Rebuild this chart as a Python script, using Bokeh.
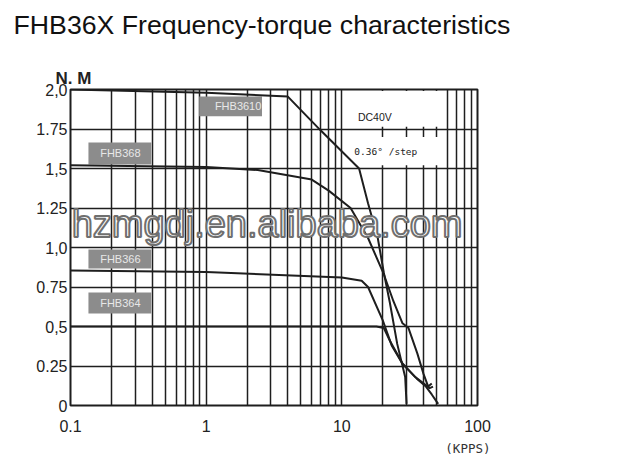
from bokeh.plotting import figure
from bokeh.models import FixedTicker, Label, ColumnDataSource, Title
from bokeh.core.properties import value
from bokeh.embed import file_html
from bokeh.resources import INLINE

# ---------------- data ----------------
x_major = [0.1, 1, 10, 100]
x_minor = [m * d for d in (0.1, 1, 10) for m in range(2, 10)]
x_labels = {0.1: "0.1", 1: "1", 10: "10", 100: "100"}
y_ticks = [0, 0.25, 0.5, 0.75, 1.0, 1.25, 1.5, 1.75, 2.0]
y_labels = {0: "0", 0.25: "0.25", 0.5: "0,5", 0.75: "0.75", 1: "1,0",
            1.25: "1.25", 1.5: "1,5", 1.75: "1.75", 2: "2,0"}

fhb3610_x = [0.1, 1, 4, 7, 13.4, 15.6, 18.4, 20.4, 22.6, 25.6, 29.3, 30]
fhb3610_y = [2.0, 1.98, 1.955, 1.74, 1.5, 1.28, 1.06, 0.84, 0.65, 0.39, 0.18, 0.01]

fhb368_x = [0.1, 1, 2.4, 6, 8, 11.6, 15.6, 20.2, 24, 28, 31, 36, 40, 43.3, 46]
fhb368_y = [1.52, 1.51, 1.49, 1.43, 1.36, 1.25, 1.06, 0.84, 0.66, 0.52, 0.49, 0.33, 0.2, 0.12, 0.14]

fhb366_x = [0.1, 1, 10, 14, 15.6, 20, 23.3, 28.2, 35.7, 41.7, 46, 51.3]
fhb366_y = [0.855, 0.845, 0.81, 0.79, 0.75, 0.54, 0.38, 0.26, 0.17, 0.12, 0.07, 0.01]

fhb364_x = [0.1, 1, 10, 18, 20.4, 22.6, 27.8, 34.8, 40, 44.4, 47]
fhb364_y = [0.5, 0.5, 0.5, 0.5, 0.49, 0.41, 0.27, 0.18, 0.14, 0.11, 0.12]

series_names = ["FHB3610", "FHB368", "FHB366", "FHB364"]

# label boxes (annotation placement)
box_left = [0.888, 0.1356, 0.1356, 0.1356]
box_right = [2.58, 0.394, 0.394, 0.394]
box_bottom = [1.83, 1.525, 0.867, 0.582]
box_top = [1.956, 1.665, 0.987, 0.715]
box_text_x = [1.72, 0.233, 0.233, 0.233]
box_text_y = [1.893, 1.595, 0.927, 0.648]

# ---------------- figure ----------------
LINE = "#1e1e1e"
FONT = "Liberation Sans"

p = figure(width=620, height=466, x_axis_type="log", x_range=(0.1, 100), y_range=(0, 2.0),
           output_backend="svg", toolbar_location=None,
           min_border_left=70, min_border_right=143, min_border_top=89, min_border_bottom=61)
p.title.text = ""
p.background_fill_color = "white"
p.border_fill_color = "white"
p.outline_line_color = LINE
p.outline_line_width = 2

# texts placed outside the frame: stacked titles (closest to frame first)
p.add_layout(Title(text="N. M", align="left", offset=-15, standoff=4,
                   text_font=FONT, text_font_size="17px", text_font_style="bold",
                   text_color="#222222"), "above")
p.add_layout(Title(text=" ", standoff=20, text_font_size="1px"), "above")
p.add_layout(Title(text="FHB36X Frequency-torque characteristics", align="left", offset=-57,
                   standoff=4, text_font=FONT, text_font_size="26.7px",
                   text_font_style="normal", text_color="#111111"), "above")

xt = FixedTicker(ticks=x_major, minor_ticks=x_minor)
yt = FixedTicker(ticks=y_ticks)
p.xaxis.ticker = xt
p.xgrid.ticker = xt
p.yaxis.ticker = yt
p.ygrid.ticker = yt
p.xaxis.major_label_overrides = x_labels
p.yaxis.major_label_overrides = y_labels

for ax in (p.xaxis, p.yaxis):
    ax.axis_line_color = None
    ax.major_tick_line_color = None
    ax.minor_tick_line_color = None
    ax.major_tick_out = 0
    ax.major_tick_in = 0
    ax.minor_tick_out = 0
    ax.minor_tick_in = 0
    ax.major_label_text_font = FONT
    ax.major_label_text_font_size = "16px"
    ax.major_label_text_color = "#222222"
p.xaxis.major_label_standoff = 14
p.xaxis.major_label_text_align = "left"
p.yaxis.major_label_standoff = 3

p.add_layout(Title(text="(KPPS)", align="right", offset=-13, standoff=8,
                   text_font="DejaVu Sans Mono", text_font_size="12.5px",
                   text_font_style="normal", text_color="#333333"), "below")

p.xgrid.grid_line_color = LINE
p.xgrid.grid_line_width = 1.5
p.xgrid.minor_grid_line_color = LINE
p.xgrid.minor_grid_line_width = 1.5
p.ygrid.grid_line_color = LINE
p.ygrid.grid_line_width = 1.5

# white panels behind the condition notes
p.quad(left=[10.4, 10.4], right=[57, 57], bottom=[1.765, 1.52], top=[1.99, 1.70],
       fill_color="white", line_color=None)

# grey legend boxes
box_src = ColumnDataSource(dict(left=box_left, right=box_right, bottom=box_bottom, top=box_top,
                                tx=box_text_x, ty=box_text_y, name=series_names))
p.quad(left="left", right="right", bottom="bottom", top="top", source=box_src,
       fill_color="#8c8c8c", line_color=None)
p.text(x="tx", y="ty", text="name", source=box_src, text_color="#e8e8e8",
       text_font=value(FONT), text_font_size="11px",
       text_align="center", text_baseline="middle")

# curves
for xs, ys in ((fhb3610_x, fhb3610_y), (fhb368_x, fhb368_y),
               (fhb366_x, fhb366_y), (fhb364_x, fhb364_y)):
    p.line(xs, ys, line_color=LINE, line_width=2)

# notes
p.add_layout(Label(x=17.5, y=1.823, text="DC40V", text_font=FONT, text_font_size="10.5px",
                   text_align="center", text_baseline="middle", text_color="#222222"))
p.add_layout(Label(x=21.1, y=1.608, text="0.36° /step", text_font="DejaVu Sans Mono",
                   text_font_size="9.5px", text_align="center", text_baseline="middle",
                   text_color="#222222"))

# watermark
p.add_layout(Label(x=2.81, y=1.15, text="hzmgdj.en.alibaba.com", text_font=FONT,
                   text_font_size="38px", text_align="center", text_baseline="alphabetic",
                   text_color="white", text_outline_color="#6f6f6f"))

open("out.html", "w").write(file_html(p, INLINE))
